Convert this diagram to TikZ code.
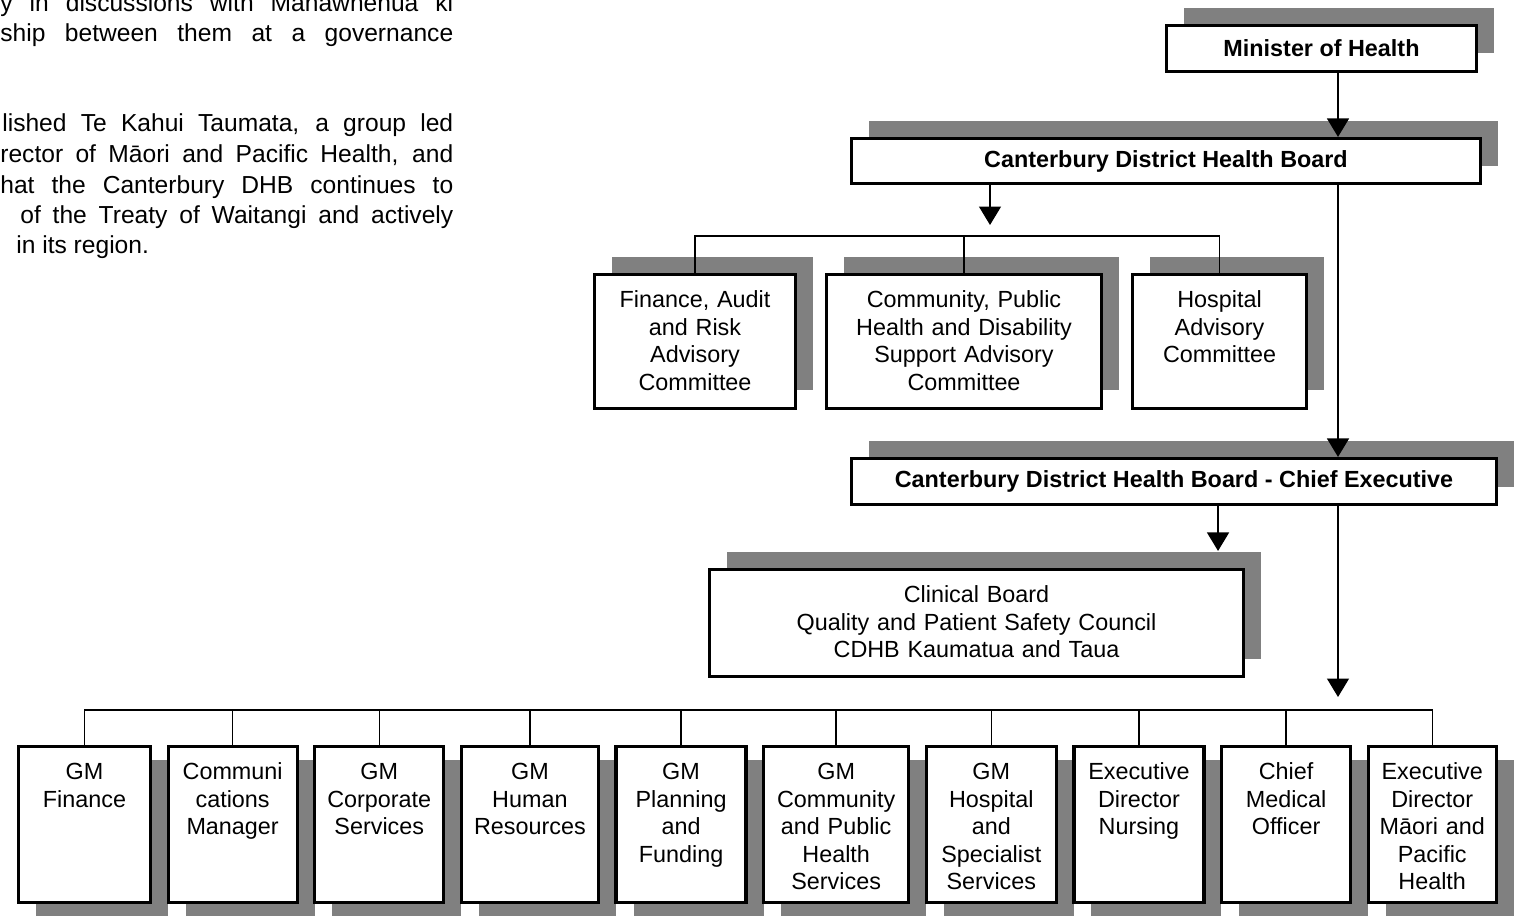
\documentclass[tikz,border=0pt]{standalone}
\usepackage{fontspec}
\setmainfont{Liberation Sans}
\usetikzlibrary{arrows.meta, shadows, positioning}

\definecolor{shade}{RGB}{128,128,128}

\tikzset{
  box/.style={draw, line width=1.8pt, fill=white, inner sep=0pt, align=center,
    font=\fontsize{13.3}{15.6}\selectfont},
  up shadow/.style={drop shadow={shadow xshift=0.35cm, shadow yshift=0.36cm,
    opacity=1, fill=shade}},
  down shadow/.style={drop shadow={shadow xshift=0.35cm, shadow yshift=-0.27cm,
    opacity=1, fill=shade}},
  head/.style={box, up shadow, font=\fontsize{13.3}{15.6}\selectfont\bfseries,
    minimum height=0.92cm},
  cbox/.style={box, up shadow, text width=#1, text height=0.668cm, text depth=2.012cm},
  gbox/.style={box, down shadow, text width=#1, text height=0.668cm, text depth=2.452cm},
  link/.style={line width=0.8pt},
  arr/.style={link, -{Triangle[width=0.44cm, length=0.37cm]}},
  para/.style={inner sep=0pt, font=\fontsize{14}{17}\selectfont}
}

\begin{document}
\begin{tikzpicture}[x=0.02cm, y=-0.02cm]
  \useasboundingbox (0,0) rectangle (1520,916);

  % page text beside the chart, cut at the left margin
  \foreach \y/\x/\w/\words [count=\i] in {
      11/0/9.06/{y in discussions with Manawhenua ki},
      41/0/9.06/{ship between them at a governance},
      131/2/9.02/{lished Te Kahui Taumata, a group led},
      162/0/9.06/{rector of Māori and Pacific Health, and},
      193/0/9.06/{hat the Canterbury DHB continues to},
      223/20/8.66/{of the Treaty of Waitangi and actively}} {
    \node[para, anchor=base west] (txt\i) at (\x,\y) {\makebox[\w cm][s]{\words}};
  }
  \node[para, anchor=base west] (txt7) at (16,253) {in its region.};

  % board and committees
  \node[head, minimum width=6.2cm] (min) at (1321.5,48.5) {Minister of Health};
  \node[head, minimum width=12.58cm, minimum height=0.9cm] (cdhb) at (1166,161)
    {Canterbury District Health Board};
  \node[cbox=4.02cm] (fin) at (695,341.5) {Finance, Audit\\and Risk\\Advisory\\Committee};
  \node[cbox=5.5cm] (cph) at (964,341.5)
    {Community, Public\\Health and Disability\\Support Advisory\\Committee};
  \node[cbox=3.48cm] (hac) at (1219.5,341.5) {Hospital\\Advisory\\Committee};

  % chief executive and clinical board
  \node[head, minimum width=12.9cm] (ce) at (1174,481.5)
    {Canterbury District Health Board - Chief Executive};
  \node[cbox=10.68cm, text depth=1.472cm] (clin) at (976.5,623)
    {Clinical Board\\Quality and Patient Safety Council\\CDHB Kaumatua and Taua};

  % general managers
  \node[gbox=2.64cm] (g1) at (84.5,824.5) {GM\\Finance};
  \node[gbox=2.58cm, right=0.29cm of g1] (g2) {Communi\\cations\\Manager};
  \node[gbox=2.58cm, right=0.29cm of g2] (g3) {GM\\Corporate\\Services};
  \node[gbox=2.74cm, right=0.29cm of g3] (g4) {GM\\Human\\Resources};
  \node[gbox=2.60cm, right=0.29cm of g4] (g5) {GM\\Planning\\and\\Funding};
  \node[gbox=2.90cm, right=0.29cm of g5] (g6) {GM\\Community\\and Public\\Health\\Services};
  \node[gbox=2.60cm, right=0.29cm of g6] (g7) {GM\\Hospital\\and\\Specialist\\Services};
  \node[gbox=2.60cm, right=0.29cm of g7] (g8) {Executive\\Director\\Nursing};
  \node[gbox=2.58cm, right=0.29cm of g8] (g9) {Chief\\Medical\\Officer};
  \node[gbox=2.56cm, right=0.29cm of g9] (g10) {Executive\\Director\\Māori and\\Pacific\\Health};

  % connectors
  \coordinate (spine) at (1338,0);
  \coordinate (ctip) at (990,225);
  \coordinate (cbar) at (990,236);
  \coordinate (gtip) at (1338,697);
  \coordinate (gbar) at (1338,710);
  \coordinate (ktip) at ([xshift=-0.54cm, yshift=0.34cm]clin.north east);

  \draw[arr] (min.south -| spine) -- (cdhb.north -| spine);
  \draw[arr] (cdhb.south -| spine) -- (ce.north -| spine);
  \draw[arr] (ce.south -| spine) -- (gtip);
  \draw[arr] (cdhb.south -| ctip) -- (ctip);
  \draw[arr] (ce.south -| ktip) -- (ktip);

  \draw[link] (fin.north) |- (cbar) -| (hac.north);
  \draw[link] (cph.north) -- (cph.north |- cbar);

  \draw[link] (g1.north) |- (gbar) -| (g10.north);
  \foreach \i in {2,...,9}
    \draw[link] (g\i.north) -- (g\i.north |- gbar);
\end{tikzpicture}
\end{document}
